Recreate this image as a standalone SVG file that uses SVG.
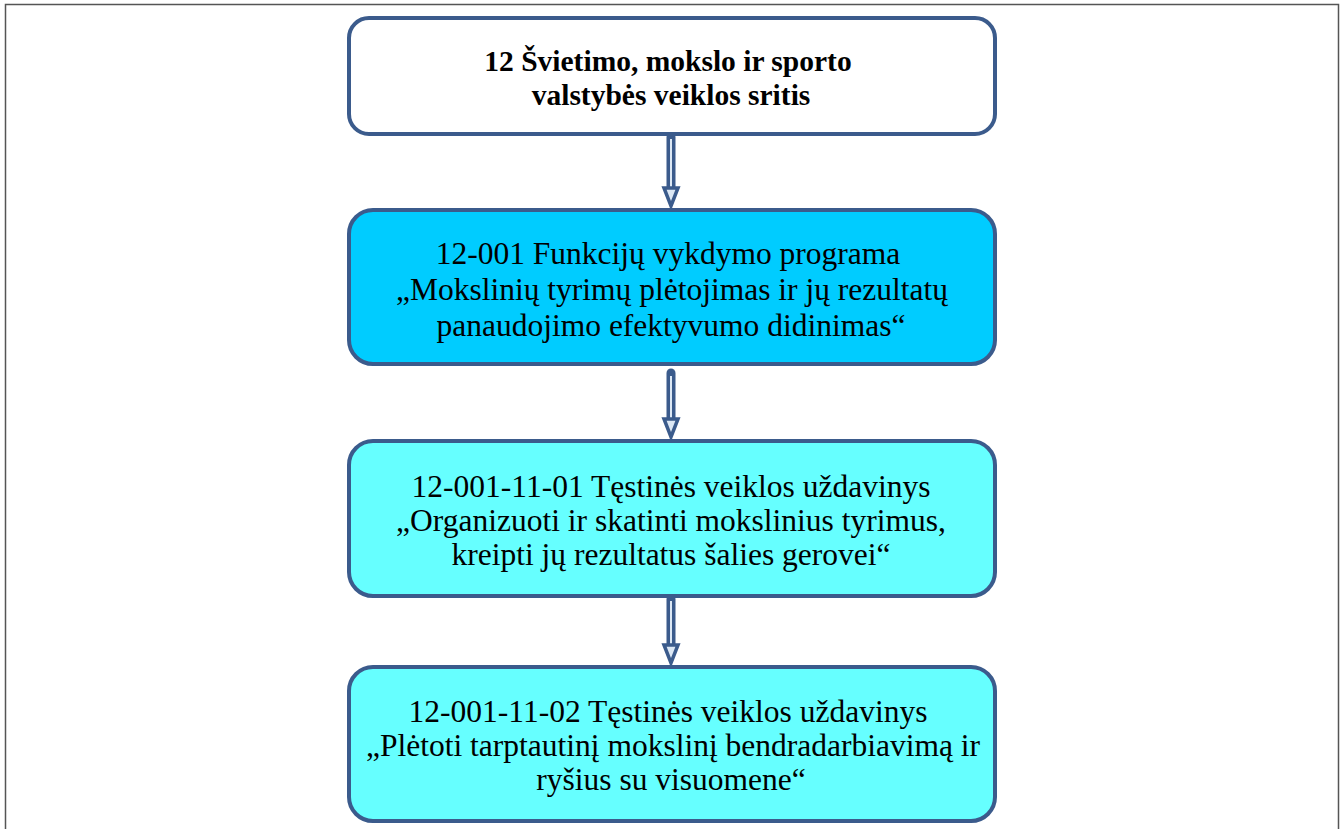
<svg xmlns="http://www.w3.org/2000/svg" width="1342" height="829" viewBox="0 0 1342 829">
<style>
.box{stroke:#3b5b8c;stroke-width:4}
.t{font-family:"Liberation Serif","DejaVu Serif",serif;font-size:31.5px;fill:#000;text-anchor:middle}
.b{font-weight:bold;font-size:29.5px}
.shaft{stroke:#3b5b8c;stroke-width:9;fill:none;stroke-linecap:round}
.core{stroke:#dce8f5;stroke-width:2;fill:none}
.head{fill:#dce8f5;stroke:#3b5b8c;stroke-width:3.5;stroke-linejoin:miter}
</style>
<rect x="0" y="0" width="1342" height="829" fill="#fff"/>
<path d="M5.5 829 V4.5 H1338.5 V829" fill="none" stroke="#555" stroke-width="1.5"/>
<g id="connectors">
<g id="c1"><line class="shaft" x1="671" y1="137" x2="671" y2="190"/><line class="core" x1="671" y1="139" x2="671" y2="194"/><path class="head" d="M664 188 L678 188 L671 206 Z"/></g>
<g id="c2"><line class="shaft" x1="671" y1="373" x2="671" y2="421"/><line class="core" x1="671" y1="376" x2="671" y2="425"/><path class="head" d="M664 419 L678 419 L671 437 Z"/></g>
<g id="c3"><line class="shaft" x1="671" y1="599" x2="671" y2="646"/><line class="core" x1="671" y1="601" x2="671" y2="650"/><path class="head" d="M664 645 L678 645 L671 663 Z"/></g>
</g>
<g id="n1"><rect class="box" x="349" y="18" width="646" height="116" rx="20" fill="#fff"/>
<text class="t b" x="668" y="71">12 Švietimo, mokslo ir sporto</text>
<text class="t b" x="671" y="105">valstybės veiklos sritis</text></g>
<g id="n2"><rect class="box" x="349" y="210" width="646" height="154" rx="24" fill="#00ccff"/>
<text class="t" x="668" y="264">12-001 Funkcijų vykdymo programa</text>
<text class="t" x="672" y="300">„Mokslinių tyrimų plėtojimas ir jų rezultatų</text>
<text class="t" x="671" y="336">panaudojimo efektyvumo didinimas“</text></g>
<g id="n3"><rect class="box" x="349" y="441" width="646" height="155" rx="24" fill="#66ffff"/>
<text class="t" x="671" y="497">12-001-11-01 Tęstinės veiklos uždavinys</text>
<text class="t" x="671" y="531">„Organizuoti ir skatinti mokslinius tyrimus,</text>
<text class="t" x="671" y="565">kreipti jų rezultatus šalies gerovei“</text></g>
<g id="n4"><rect class="box" x="349" y="667" width="646" height="154" rx="24" fill="#66ffff"/>
<text class="t" x="668" y="722">12-001-11-02 Tęstinės veiklos uždavinys</text>
<text class="t" x="673" y="756">„Plėtoti tarptautinį mokslinį bendradarbiavimą ir</text>
<text class="t" x="671" y="790">ryšius su visuomene“</text></g>
</svg>
